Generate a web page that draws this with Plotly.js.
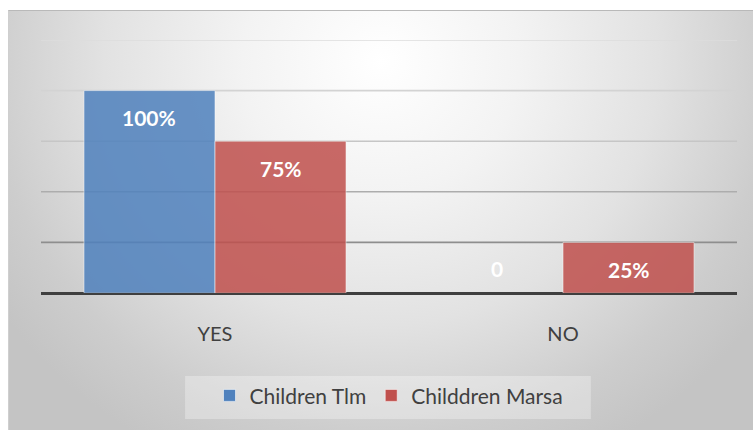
<!DOCTYPE html>
<html>
<head>
<meta charset="utf-8">
<script src="https://cdn.plot.ly/plotly-3.0.1.min.js"></script>
<style>
  html, body { margin: 0; padding: 0; background: #ffffff; }
  #wrap { position: relative; width: 753px; height: 430px; overflow: hidden; }
  #bg {
    position: absolute; left: 8px; top: 10px; width: 745px; height: 420px;
    box-sizing: border-box;
    border-top: 1px solid #b9b9b9; border-left: 1px solid #cfcfcf;
    background: radial-gradient(ellipse 62% 105% at 50% 12%, #ffffff 0%, #f3f3f3 30%, #e2e2e2 60%, #cdcdcd 85%, #c4c4c4 100%);
  }
  #chart { position: absolute; left: 0; top: 0; width: 753px; height: 430px; }
</style>
</head>
<body>
<div id="wrap">
  <div id="bg"></div>
  <div id="chart"></div>
</div>
<script>
// ---- data ----
const categories = ['YES', 'NO'];
const seriesNames = ['Children Tlm', 'Childdren Marsa'];
const childrenTlm = [1.00, 0];
const childdrenMarsa = [0.75, 0.25];
const gridValues = [0.25, 0.5, 0.75, 1.0, 1.25];

// ---- styling ----
const colors = ['#4F81BD', '#C0504D'];
const gridColors = ['#8e8e8e', '#adadad', '#c6c6c6', '#d3d3d3', '#dcdcdc'];
const textFont = 'Lato, "Open Sans", "DejaVu Sans", sans-serif';
const bargap = 0.247;
const halfBar = (1 - bargap) / 4; // center offset of each bar within group

const series = [childrenTlm, childdrenMarsa];

const traces = series.map((vals, s) => ({
  type: 'bar',
  name: seriesNames[s],
  x: categories,
  y: vals,
  marker: {
    color: colors[s], opacity: 0.85,
    line: { color: 'rgba(255,255,255,0.55)', width: vals.map(v => v > 0 ? 1 : 0) }
  },
  hoverinfo: 'skip'
}));

const annotations = [];
series.forEach((vals, s) => {
  vals.forEach((v, i) => {
    annotations.push({
      x: i + (s === 0 ? -halfBar : halfBar),
      y: v,
      xref: 'x', yref: 'y',
      text: '<b>' + (v === 0 ? '0' : Math.round(v * 100) + '%') + '</b>',
      showarrow: false,
      yshift: v > 0 ? -27 : 25,
      font: { family: textFont, size: 21, color: '#ffffff' }
    });
  });
});

const shapes = gridValues.map((g, k) => ({
  type: 'line', layer: 'below',
  xref: 'paper', x0: 0, x1: 1,
  yref: 'y', y0: g, y1: g,
  line: { color: gridColors[k], width: 1.6 }
}));
// legend background panel (decoration)
shapes.push({
  type: 'rect', layer: 'below',
  xref: 'paper', x0: 0.207, x1: 0.790,
  yref: 'paper', y0: -0.328, y1: -0.498,
  fillcolor: 'rgba(255,255,255,0.3)', line: { width: 0 }
});

const layout = {
  width: 753, height: 430,
  margin: { l: 41, r: 16, t: 40, b: 137 },
  paper_bgcolor: 'rgba(0,0,0,0)',
  plot_bgcolor: 'rgba(0,0,0,0)',
  barmode: 'group',
  bargap: bargap,
  bargroupgap: 0,
  showlegend: true,
  legend: {
    orientation: 'h',
    x: 0.5, xanchor: 'center', xref: 'paper',
    y: -0.325, yanchor: 'top',
    bgcolor: 'rgba(0,0,0,0)',
    font: { family: textFont, size: 21, color: '#404040' },
    itemclick: false, itemdoubleclick: false
  },
  xaxis: {
    type: 'category',
    tickfont: { family: textFont, size: 20, color: '#404040' },
    ticks: 'outside', ticklen: 23, tickcolor: 'rgba(0,0,0,0)',
    showline: false, showgrid: false, zeroline: false
  },
  yaxis: {
    range: [0, 1.25],
    showgrid: false,
    showticklabels: false,
    ticks: '',
    zeroline: true, zerolinecolor: '#3f3f3f', zerolinewidth: 3,
    showline: false
  },
  shapes: shapes,
  annotations: annotations
};

Plotly.newPlot('chart', traces, layout, { displayModeBar: false, staticPlot: true });
</script>
</body>
</html>
